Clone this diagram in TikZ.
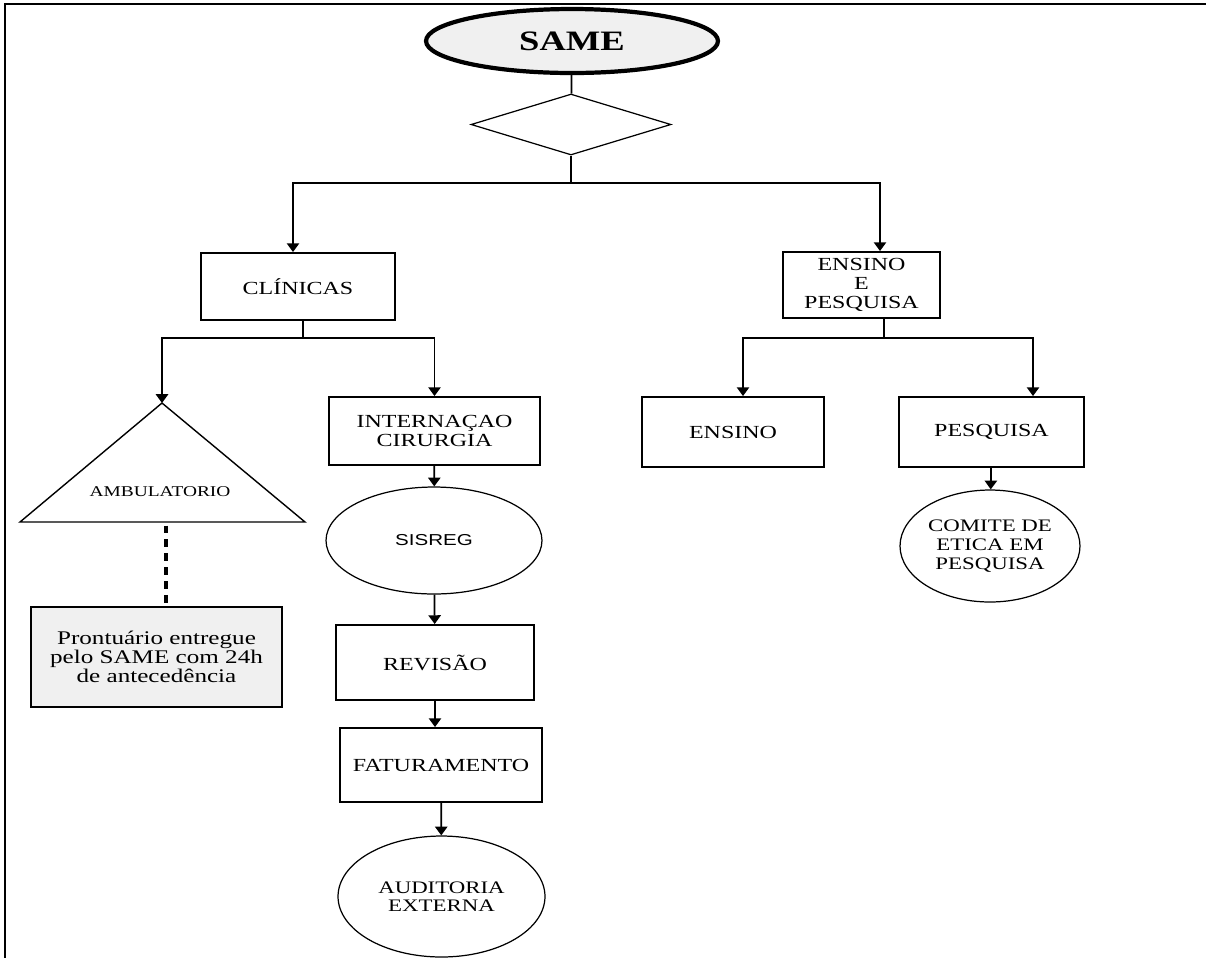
\documentclass[tikz,border=0pt]{standalone}
\usepackage{fontspec}
\setmainfont{Liberation Serif}[FakeStretch=1.3]
\newfontfamily\sisfont{Liberation Sans}[FakeStretch=1.3]
\usepackage{xcolor}
\usetikzlibrary{shapes, arrows.meta, calc, positioning}
\definecolor{fundo}{HTML}{F0F0F0}

\begin{document}
\begin{tikzpicture}[x=0.02cm, y=-0.02cm,
        caixa/.style={draw, rectangle, line width=1.1pt, inner sep=0pt, align=center, font=\fontsize{10.5}{11}\selectfont},
        elipse/.style={draw, ellipse, line width=0.7pt, inner sep=0pt, align=center, font=\fontsize{10}{10.6}\selectfont},
        seta/.style={-{Triangle[width=7pt, length=5pt]}, line width=1pt}]
        \useasboundingbox (0,0) rectangle (1206,958);
        \draw[line width=0.8pt] (1206,4) -- (5,4) -- (5,958);

        \node[draw, ellipse, line width=2.4pt, fill=fundo, minimum width=5.84cm, minimum height=1.28cm, inner sep=0pt, font=\fontsize{16}{16}\selectfont\bfseries] (Same) at (572,41) {SAME};
        \node[draw, diamond, line width=0.7pt, minimum width=4cm, minimum height=1.22cm, inner sep=0pt] (Dec) at (571,124.5) {};
        \coordinate (Bus1) at (571,183);
        \draw[line width=1pt] (Same) -- (Dec);
        \draw[line width=1pt] (Dec) -- (Bus1);

        \node[caixa, minimum width=3.88cm, minimum height=1.34cm] (Cli) at (298,286.5) {CLÍNICAS};
        \node[caixa, minimum width=3.14cm, minimum height=1.32cm] (EnsPes) at (861.5,285) {ENSINO\\E\\PESQUISA};
        \draw[seta] (Bus1) -| ($(Cli.north)+(-5,0)$);
        \draw[seta] (Bus1) -| ($(EnsPes.north)+(18.5,0)$);

        \coordinate (AmbTopo) at (162,403);
        \coordinate (AmbBase) at (166,522);
        \draw[line width=0.8pt] (AmbTopo) -- (305,522) -- (20,522) -- cycle;
        \node[font=\fontsize{8.5}{9}\selectfont] (Amb) at (160,492) {AMBULATORIO};
        \node[caixa, fill=fundo, minimum width=5.02cm, minimum height=2cm, font=\fontsize{11}{10.8}\selectfont] (Pront) at (156.5,657) {Prontuário entregue\\pelo SAME com 24h\\de antecedência};
        \draw[line width=2pt, dash pattern=on 4.5pt off 3.4pt, shorten <=2pt, shorten >=2pt] (AmbBase) -- (AmbBase |- Pront.north);

        \node[caixa, minimum width=4.22cm, minimum height=1.36cm] (Int) at (434.5,431) {INTERNAÇAO\\CIRURGIA};
        \node[elipse, minimum width=4.32cm, minimum height=2.14cm, font=\sisfont\fontsize{9}{10}\selectfont] (Sis) at (434,540.5) {SISREG};
        \node[caixa, minimum width=3.96cm, minimum height=1.5cm] (Rev) at (435,662.5) {REVISÃO};
        \node[caixa, minimum width=4.04cm, minimum height=1.48cm] (Fat) at (441,765) {FATURAMENTO};
        \node[elipse, minimum width=4.14cm, minimum height=2.42cm] (Aud) at (441.5,896.5) {AUDITORIA\\EXTERNA};
        \coordinate (Bus2) at (303,338);
        \draw[line width=1pt] (Cli.south -| Bus2) -- (Bus2);
        \draw[seta] (Bus2) -| (AmbTopo);
        \draw[seta] (Bus2) -| (Int);
        \draw[seta] (Int) -- (Sis);
        \draw[seta] (Sis) -- (Rev);
        \draw[seta] (Rev) -- (Rev |- Fat.north);
        \draw[seta] (Fat) -- (Aud);

        \node[caixa, minimum width=3.64cm, minimum height=1.4cm] (Ens) at (733,432) {ENSINO};
        \node[caixa, minimum width=3.7cm, minimum height=1.4cm] (Pes) at (991.5,432) {PESQUISA};
        \node[elipse, minimum width=3.6cm, minimum height=2.24cm] (Com) at (990,546) {COMITE DE\\ETICA EM\\PESQUISA};
        \coordinate (Bus3) at (884,338);
        \draw[line width=1pt] (EnsPes.south -| Bus3) -- (Bus3);
        \draw[seta] (Bus3) -| ($(Ens.north)+(10,0)$);
        \draw[seta] (Bus3) -| ($(Pes.north)+(41.5,0)$);
        \draw[seta] (Pes) -- (Com);
\end{tikzpicture}
\end{document}
